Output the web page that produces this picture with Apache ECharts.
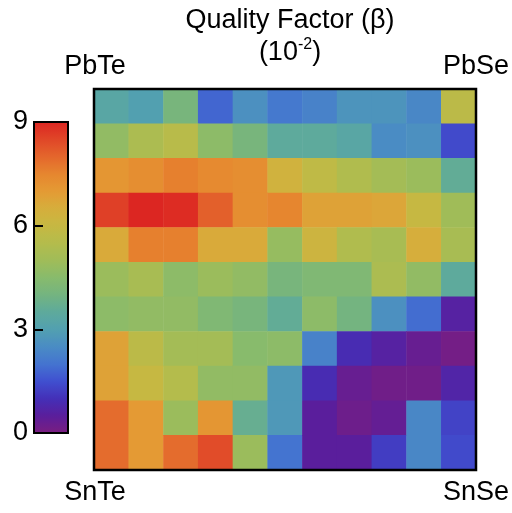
<!DOCTYPE html>
<html>
<head>
<meta charset="utf-8">
<script src="https://cdn.jsdelivr.net/npm/echarts@6/dist/echarts.min.js"></script>
<style>
  html, body { margin: 0; padding: 0; background: #fff; }
  #main { width: 512px; height: 513px; }
</style>
</head>
<body>
<div id="main"></div>
<script>
// rows: top (PbTe-PbSe side) to bottom (SnTe-SnSe side), columns left to right
var rowValues = [
    [3.3, 3.0, 4.1, 1.8, 2.6, 2.1, 2.3, 2.7, 2.7, 2.4, 5.7],
    [4.7, 5.3, 5.6, 4.6, 4.1, 3.5, 3.5, 3.3, 2.5, 2.6, 1.4],
    [7.1, 7.3, 7.6, 7.4, 7.3, 6.3, 5.8, 5.4, 5.1, 4.9, 3.6],
    [8.6, 9.0, 8.9, 8.1, 7.3, 7.5, 6.8, 6.8, 6.7, 6.0, 5.0],
    [6.6, 7.6, 7.6, 6.6, 6.6, 4.8, 6.2, 5.4, 5.2, 6.5, 5.2],
    [4.9, 5.2, 4.6, 4.9, 4.7, 4.1, 4.3, 4.3, 5.3, 4.7, 3.5],
    [4.6, 4.7, 4.7, 4.3, 4.1, 3.6, 4.6, 4.0, 2.6, 1.9, 0.6],
    [6.8, 5.7, 5.1, 5.1, 4.5, 4.6, 2.3, 0.9, 0.6, 0.3, 0.1],
    [6.8, 6.0, 5.5, 4.7, 4.7, 2.8, 0.9, 0.3, 0.15, 0.15, 0.7],
    [7.9, 7.0, 4.9, 7.1, 3.7, 2.8, 0.5, 0.2, 0.35, 2.4, 1.3],
    [7.9, 7.0, 7.9, 8.4, 4.9, 2.0, 0.5, 0.5, 1.2, 2.4, 1.4]
];
var colIdx = ['0', '1', '2', '3', '4', '5', '6', '7', '8', '9', '10'];
var rowIdx = ['0', '1', '2', '3', '4', '5', '6', '7', '8', '9', '10'];

// colormap, one stop per 0.5 from 0 to 9
var palette = ['#7a1e80', '#5a1e9c', '#4430b8', '#4050d0', '#4474d0', '#4a8cc4',
    '#52a0b0', '#5eaa9c', '#74b480', '#88bb6c', '#a0bc58', '#b4bc4c', '#c6b842',
    '#d6ae3c', '#e49a34', '#e6862f', '#e4662c', '#e04628', '#dc2622'];

var cells = [];
rowValues.forEach(function (row, r) {
    row.forEach(function (v, c) {
        cells.push([c, r, v]);
    });
});

var myChart = echarts.init(document.getElementById('main'));
var font = 'Liberation Sans, Arial, sans-serif';

myChart.setOption({
    animation: false,
    backgroundColor: '#fff',
    title: {
        text: 'Quality Factor (β)\n(10{sup|-2})',
        left: 285,
        top: 0,
        textAlign: 'center',
        textStyle: {
            fontFamily: font,
            fontSize: 27,
            fontWeight: 'normal',
            color: '#000',
            lineHeight: 32,
            rich: {
                sup: { fontFamily: font, fontSize: 16, color: '#000', verticalAlign: 'top', lineHeight: 32, padding: [0, 0, 12, 0] }
            }
        }
    },
    grid: [
        { left: 94, top: 89, width: 382, height: 381, show: false },
        { left: 34, top: 122, width: 34, height: 311, show: false }
    ],
    xAxis: [
        { type: 'category', data: colIdx, gridIndex: 0, show: false },
        { type: 'value', gridIndex: 1, show: false }
    ],
    yAxis: [
        { type: 'category', data: rowIdx, gridIndex: 0, inverse: true, show: false },
        {
            type: 'value', gridIndex: 1, min: 0, max: 9, interval: 3, z: 10,
            axisLine: { show: false },
            splitLine: { show: false },
            axisTick: { show: true, inside: true, length: 9, lineStyle: { color: '#000', width: 2 } },
            axisLabel: { fontFamily: font, fontSize: 27, color: '#000', margin: 6 }
        }
    ],
    visualMap: {
        type: 'continuous',
        min: 0,
        max: 9,
        seriesIndex: 0,
        calculable: false,
        showLabel: false,
        text: null,
        left: 34,
        top: 122,
        padding: 0,
        itemWidth: 34,
        itemHeight: 311,
        inRange: { color: palette }
    },
    series: [{
        type: 'heatmap',
        xAxisIndex: 0,
        yAxisIndex: 0,
        data: cells,
        itemStyle: { borderWidth: 0 },
        emphasis: { disabled: true }
    }],
    graphic: [
        { type: 'rect', z: 100, shape: { x: 94, y: 89, width: 382, height: 381 }, style: { fill: 'none', stroke: '#000', lineWidth: 2.5 } },
        { type: 'rect', z: 100, shape: { x: 34, y: 122, width: 34, height: 311 }, style: { fill: 'none', stroke: '#000', lineWidth: 2 } },
        { type: 'text', x: 95, y: 67, style: { text: 'PbTe', font: '27px ' + font, fill: '#000', align: 'center', verticalAlign: 'middle' } },
        { type: 'text', x: 476, y: 67, style: { text: 'PbSe', font: '27px ' + font, fill: '#000', align: 'center', verticalAlign: 'middle' } },
        { type: 'text', x: 95, y: 493, style: { text: 'SnTe', font: '27px ' + font, fill: '#000', align: 'center', verticalAlign: 'middle' } },
        { type: 'text', x: 476, y: 493, style: { text: 'SnSe', font: '27px ' + font, fill: '#000', align: 'center', verticalAlign: 'middle' } }
    ]
});
</script>
</body>
</html>
